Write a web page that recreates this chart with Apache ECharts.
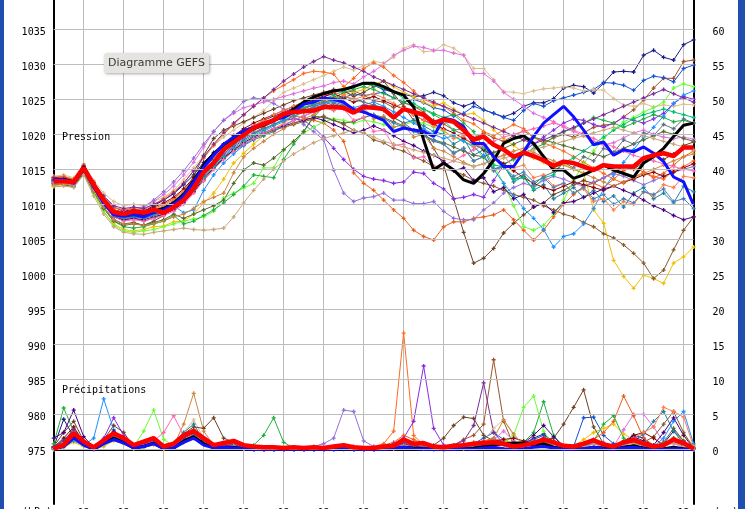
<!DOCTYPE html>
<html><head><meta charset="utf-8">
<script src="https://cdn.jsdelivr.net/npm/echarts@6.0.0/dist/echarts.min.js"></script>
<style>
html,body{margin:0;padding:0;width:745px;height:509px;overflow:hidden;background:#fff;position:relative}
#chart{position:absolute;left:0;top:-60px;width:745px;height:600px}
#lb{position:absolute;left:0;top:0;width:4px;height:509px;background:#1f4fae}
#rb{position:absolute;left:738px;top:0;width:7px;height:509px;background:#1f4fae}
#title{position:absolute;left:104px;top:53px;width:105px;height:20px;background:#e6e4e0;border-radius:3px;box-shadow:1px 1px 3px rgba(0,0,0,0.35);font:11px "DejaVu Sans",sans-serif;color:#3a3a3a;line-height:20px;text-align:center}
</style></head>
<body>
<div id="chart"></div>
<div id="lb"></div><div id="rb"></div>
<div id="title">Diagramme GEFS</div>
<script>
// forecast steps (hours)
const steps = [0,6,12,18,24,30,36,42,48,54,60,66,72,78,84,90,96,102,108,114,120,126,132,138,144,150,156,162,168,174,180,186,192,198,204,210,216,222,228,234,240,246,252,258,264,270,276,282,288,294,300,306,312,318,324,330,336,342,348,354,360,366,372,378,384];
const tickLabels = ['12','12','12','12','12','12','12','12','12','12','12','12','12','12','12','12'];
const pressureTicks = [975,980,985,990,995,1000,1005,1010,1015,1020,1025,1030,1035,1040];
const rainTicks = [0,5,10,15,20,25,30,35,40,45,50,55,60,65];

// ensemble mean / operational / control (pressure hPa)
const pMean = [1013.3,1013.3,1013.2,1015.2,1012.8,1010.6,1008.9,1008.6,1009.0,1008.8,1009.2,1008.8,1009.6,
1010.6,1012.3,1014.6,1015.9,1017.8,1018.9,1019.9,1020.9,1021.5,1022.0,1022.9,1023.2,1023.3,
1023.4,1023.9,1023.9,1023.8,1023.1,1023.9,1023.8,1023.6,1022.4,1023.6,1023.2,1022.8,1021.6,
1022.1,1021.8,1020.6,1019.2,1019.7,1018.5,1017.8,1016.8,1017.4,1016.9,1016.3,1015.5,1016.1,
1015.9,1015.4,1014.9,1015.6,1015.4,1015.4,1015.4,1016.6,1017.0,1017.3,1016.9,1018.1,1018.1];
const pOper = [1013.6,1013.5,1013.0,1015.0,1012.5,1010.2,1008.5,1008.3,1008.5,1008.2,1008.8,1009.2,1010.0,
1011.2,1013.2,1015.3,1017.0,1018.6,1019.6,1020.5,1021.0,1021.4,1022.1,1022.4,1023.2,1024.3,
1024.6,1025.2,1025.0,1024.6,1023.5,1023.2,1022.6,1022.0,1020.4,1020.9,1020.6,1020.4,1019.7,
1022.3,1022.0,1021.1,1018.7,1018.7,1016.8,1015.4,1015.4,1017.5,1019.7,1021.6,1022.8,1024.0,
1022.5,1020.6,1018.5,1018.9,1017.0,1017.8,1017.5,1018.2,1017.3,1016.1,1013.9,1013.2,1009.9];
const pCtrl = [1013.4,1013.6,1013.2,1015.4,1012.6,1010.4,1008.6,1008.4,1008.8,1008.5,1009.0,1009.4,1010.2,
1011.4,1013.4,1015.6,1017.2,1018.5,1019.4,1020.2,1020.8,1021.3,1022.0,1022.6,1023.6,1024.6,
1025.3,1025.8,1026.2,1026.4,1026.8,1027.3,1027.3,1026.8,1026.1,1025.6,1023.9,1019.2,1014.9,
1015.9,1014.9,1013.5,1013.0,1014.4,1016.3,1018.7,1019.4,1019.8,1018.7,1016.8,1014.9,1014.9,
1013.7,1014.2,1014.9,1015.6,1014.9,1014.4,1013.9,1015.9,1016.8,1018.0,1019.7,1021.3,1021.6];

// ensemble members (pressure hPa)
const p01 = [1013.8,1013.9,1013.5,1015.4,1013.0,1011.0,1009.6,1009.0,1009.3,1009.0,1009.8,1010.6,1011.5,
1012.8,1014.2,1016.0,1017.4,1018.6,1019.8,1020.6,1021.2,1022.0,1022.6,1023.1,1023.8,1024.3,
1024.9,1025.4,1026.0,1026.5,1026.9,1027.2,1027.0,1026.4,1026.0,1025.7,1025.4,1025.5,1026.0,
1025.5,1024.5,1024.0,1024.5,1023.5,1023.0,1022.5,1023.0,1024.0,1024.5,1024.5,1025.1,1026.6,
1027.0,1026.8,1025.9,1027.3,1028.9,1029.0,1028.9,1031.3,1032.0,1031.0,1030.6,1032.8,1033.5];
const p02 = [1013.2,1013.0,1012.8,1014.8,1012.2,1010.0,1008.2,1007.8,1008.0,1007.6,1008.0,1008.6,1009.5,
1010.8,1012.5,1014.2,1016.0,1017.2,1018.5,1019.6,1020.2,1021.0,1021.8,1022.4,1023.0,1023.6,
1024.2,1024.8,1025.3,1025.9,1026.2,1025.6,1024.8,1024.6,1023.8,1024.5,1024.0,1023.2,1022.0,
1021.5,1020.6,1020.0,1019.5,1020.2,1019.5,1019.0,1019.8,1020.5,1019.6,1018.8,1019.5,1020.0,
1019.6,1020.2,1021.0,1021.3,1021.5,1022.5,1023.5,1024.9,1026.6,1028.0,1028.0,1030.4,1030.6];
const p03 = [1013.0,1013.2,1013.0,1015.0,1012.6,1010.5,1008.8,1008.5,1008.8,1008.6,1009.2,1009.6,1010.4,
1011.6,1013.3,1015.0,1016.6,1018.0,1019.0,1020.0,1020.8,1021.3,1022.0,1022.4,1023.0,1023.4,
1023.9,1024.5,1025.0,1025.2,1025.8,1025.5,1025.8,1026.0,1025.2,1024.6,1025.0,1024.5,1023.8,
1023.5,1022.6,1023.0,1024.0,1023.5,1023.0,1022.4,1022.0,1023.4,1024.4,1024.0,1024.8,1025.2,
1025.6,1026.0,1026.4,1027.4,1027.3,1027.0,1026.3,1027.7,1028.3,1028.1,1027.5,1029.4,1029.9];
const p04 = [1014.0,1014.2,1013.8,1015.8,1013.4,1011.6,1010.4,1009.8,1010.0,1009.8,1010.4,1011.0,1012.0,
1013.5,1015.2,1017.0,1018.4,1019.6,1020.6,1021.6,1022.4,1023.4,1024.8,1026.0,1026.6,1027.2,
1027.8,1028.4,1029.0,1029.6,1029.2,1029.8,1030.4,1030.2,1031.0,1032.3,1032.8,1031.8,1031.9,
1032.8,1032.3,1031.3,1029.4,1029.4,1027.8,1026.1,1026.0,1025.8,1026.2,1026.5,1026.6,1026.8,
1026.6,1026.2,1026.4,1026.3,1025.1,1024.2,1024.0,1024.4,1023.9,1024.2,1024.0,1024.3,1024.2];
const p05 = [1013.5,1013.6,1013.4,1015.6,1013.0,1011.0,1009.6,1009.2,1009.5,1009.6,1010.4,1011.4,1012.6,
1014.2,1016.0,1018.2,1020.4,1022.0,1023.0,1023.8,1024.2,1024.6,1025.0,1025.4,1025.8,1026.2,
1026.6,1026.9,1027.4,1027.6,1027.2,1028.2,1029.0,1030.0,1031.3,1032.0,1032.6,1032.4,1032.0,
1032.0,1031.6,1031.3,1028.7,1028.7,1027.6,1026.0,1025.0,1024.0,1023.0,1022.4,1021.8,1021.0,
1020.4,1019.8,1019.0,1018.5,1018.8,1019.5,1020.2,1020.6,1020.0,1019.6,1019.4,1019.6,1019.3];
const p06 = [1012.6,1012.8,1012.6,1014.5,1011.6,1009.0,1007.2,1006.4,1006.2,1006.4,1006.8,1006.9,1007.5,
1007.6,1008.6,1010.2,1011.6,1013.6,1015.9,1017.3,1018.6,1019.8,1020.8,1021.6,1022.4,1023.2,
1024.0,1024.6,1025.0,1025.6,1026.0,1026.4,1027.2,1027.6,1026.8,1026.0,1025.4,1024.6,1024.0,
1024.5,1023.6,1022.8,1023.0,1022.0,1020.6,1019.4,1018.4,1017.4,1016.6,1016.0,1015.2,1015.8,
1015.0,1014.5,1009.2,1007.3,1002.0,999.7,998.0,999.9,999.4,998.7,1001.6,1002.5,1003.9];
const p07 = [1013.2,1013.0,1012.6,1014.6,1012.0,1009.6,1007.8,1007.2,1007.4,1007.0,1007.6,1008.4,1009.6,
1011.4,1014.0,1017.0,1019.4,1020.6,1021.2,1021.8,1022.4,1023.0,1023.6,1024.2,1024.8,1025.2,
1025.6,1026.0,1026.4,1026.2,1025.4,1026.0,1026.8,1027.6,1025.8,1024.0,1022.0,1020.6,1018.0,
1015.6,1010.8,1006.0,1001.6,1002.3,1003.7,1005.9,1007.3,1008.5,1009.6,1010.2,1011.4,1012.0,
1012.8,1013.4,1013.0,1013.8,1014.6,1015.4,1015.0,1016.0,1017.0,1016.4,1017.2,1018.4,1018.9];
const p08 = [1013.0,1013.2,1012.9,1014.9,1012.4,1010.2,1008.4,1008.0,1008.2,1008.4,1009.0,1009.4,1010.0,
1010.6,1011.8,1013.4,1015.0,1016.6,1017.8,1018.6,1019.4,1020.0,1020.6,1021.0,1021.4,1021.8,
1022.2,1022.6,1022.0,1021.4,1020.6,1020.2,1019.2,1018.8,1018.0,1017.6,1016.8,1016.2,1015.4,
1015.0,1014.8,1014.2,1013.4,1013.0,1012.6,1012.0,1011.4,1011.0,1010.6,1009.8,1009.2,1008.6,
1008.2,1007.4,1006.8,1005.8,1005.2,1004.2,1003.0,1001.6,999.4,1000.6,1003.5,1006.3,1008.2];
const p09 = [1013.6,1013.4,1013.2,1015.2,1012.8,1010.6,1009.0,1008.6,1008.8,1008.6,1009.4,1010.0,1010.8,
1012.0,1013.6,1015.2,1016.8,1018.2,1019.4,1020.4,1021.2,1021.8,1022.2,1022.4,1022.6,1022.4,
1022.0,1021.6,1020.6,1019.0,1014.5,1013.0,1012.0,1010.6,1009.2,1008.0,1006.3,1005.4,1004.9,
1006.8,1007.5,1007.5,1008.0,1008.2,1008.5,1009.2,1007.8,1006.3,1004.9,1006.3,1008.2,1010.0,
1011.4,1012.6,1013.0,1012.4,1013.6,1014.8,1015.4,1014.6,1013.8,1014.4,1015.6,1016.8,1017.6];
const p10 = [1013.9,1014.0,1013.6,1015.6,1013.2,1011.0,1009.5,1009.2,1009.4,1009.2,1010.0,1010.8,1011.8,
1013.0,1014.8,1016.6,1018.4,1020.0,1021.4,1022.8,1024.0,1025.2,1026.2,1027.0,1027.8,1028.7,
1029.0,1028.9,1028.6,1026.8,1028.0,1029.4,1030.2,1029.6,1028.4,1027.4,1026.2,1025.0,1024.4,
1024.0,1023.0,1022.0,1021.5,1020.4,1019.8,1020.6,1021.4,1020.8,1019.6,1018.8,1018.2,1017.6,
1016.8,1016.0,1015.2,1014.4,1013.6,1013.0,1013.8,1014.6,1014.0,1013.6,1014.8,1015.4,1016.2];
const p11 = [1013.0,1013.1,1012.8,1014.8,1012.4,1010.4,1009.0,1008.6,1009.0,1009.6,1010.6,1011.8,1013.2,
1014.8,1016.6,1018.6,1020.4,1022.0,1023.2,1024.7,1025.2,1025.0,1024.4,1023.6,1022.6,1021.4,
1020.4,1019.2,1014.9,1011.6,1010.4,1010.9,1011.1,1011.6,1010.6,1010.6,1010.1,1010.1,1010.4,
1009.0,1008.0,1007.8,1007.8,1009.2,1010.2,1011.6,1012.4,1013.0,1012.6,1013.4,1014.0,1013.6,
1013.0,1012.6,1013.2,1013.8,1014.4,1014.0,1013.4,1012.8,1013.4,1014.0,1014.6,1015.0,1015.4];
const p12 = [1013.4,1013.3,1013.0,1015.0,1012.6,1010.4,1008.8,1008.4,1008.6,1008.4,1008.8,1009.2,1009.8,
1010.8,1012.4,1014.0,1015.6,1017.0,1018.2,1019.2,1020.0,1020.8,1021.4,1022.0,1022.2,1022.0,
1021.0,1019.6,1018.0,1016.4,1015.0,1014.0,1013.6,1013.4,1013.0,1013.2,1014.6,1014.4,1013.0,
1012.2,1010.8,1011.0,1011.4,1011.0,1013.4,1015.6,1016.6,1017.6,1018.6,1019.6,1020.6,1021.6,
1022.2,1022.0,1021.4,1021.0,1021.6,1022.4,1022.0,1021.6,1022.2,1023.0,1024.4,1025.4,1025.0];
const p13 = [1012.8,1012.9,1012.6,1014.4,1011.6,1009.0,1007.0,1006.2,1006.0,1006.2,1006.4,1006.8,1007.2,
1007.6,1007.9,1008.2,1009.0,1010.9,1011.6,1012.3,1013.0,1015.2,1015.2,1017.8,1019.0,1020.2,
1021.0,1021.8,1022.2,1022.0,1021.6,1022.0,1021.8,1021.4,1021.0,1021.4,1021.8,1021.6,1021.0,
1020.4,1019.6,1019.0,1018.4,1016.6,1015.6,1013.0,1009.8,1006.8,1006.3,1007.0,1008.6,1010.6,
1013.4,1015.8,1017.6,1019.4,1020.6,1021.8,1022.4,1023.2,1023.8,1024.6,1026.6,1027.2,1026.8];
const p14 = [1013.1,1013.0,1012.7,1014.6,1012.0,1009.4,1007.6,1006.8,1006.6,1006.8,1007.2,1007.6,1008.4,
1007.2,1007.6,1008.4,1009.2,1010.2,1011.4,1012.6,1014.2,1014.0,1013.8,1016.4,1018.6,1020.4,
1022.4,1024.0,1025.0,1026.0,1026.4,1026.8,1026.4,1025.8,1025.2,1024.6,1024.0,1023.6,1023.0,
1022.4,1022.8,1021.6,1020.4,1018.0,1016.8,1015.8,1016.4,1017.2,1018.0,1018.6,1019.6,1020.4,
1020.8,1021.6,1022.4,1022.0,1021.6,1021.0,1021.6,1022.2,1022.8,1022.4,1021.8,1022.0,1021.6];
const p15 = [1013.5,1013.6,1013.1,1015.0,1012.6,1010.2,1008.4,1008.0,1008.2,1008.0,1008.4,1008.8,1009.4,
1010.4,1012.0,1013.8,1015.4,1016.6,1017.6,1018.4,1019.2,1019.8,1020.4,1021.2,1022.0,1022.6,
1023.2,1023.8,1024.4,1024.0,1023.2,1023.6,1024.2,1023.8,1022.4,1021.6,1022.0,1021.2,1020.4,
1020.0,1018.6,1019.4,1017.0,1017.8,1015.0,1015.6,1013.2,1014.0,1012.0,1012.8,1010.8,1011.6,
1012.4,1011.0,1012.0,1010.4,1011.2,1009.6,1011.6,1012.4,1010.8,1011.6,1010.2,1012.6,1011.8];
const p16 = [1013.8,1013.7,1013.3,1015.3,1012.9,1010.8,1009.2,1008.9,1009.1,1009.0,1009.6,1010.2,1011.0,
1012.2,1013.8,1015.6,1017.2,1018.6,1019.8,1020.8,1021.6,1022.2,1022.8,1023.4,1024.0,1024.6,
1025.0,1025.4,1025.8,1025.2,1024.6,1025.0,1025.4,1024.8,1024.2,1023.6,1022.8,1022.0,1021.4,
1020.8,1020.2,1019.4,1018.6,1017.8,1016.8,1015.8,1014.8,1013.8,1013.0,1012.4,1012.0,1012.6,
1013.2,1012.8,1012.4,1012.0,1012.6,1013.2,1013.6,1014.2,1014.6,1014.0,1014.6,1015.2,1015.8];
const p17 = [1013.3,1013.4,1013.0,1015.0,1012.5,1010.2,1008.6,1008.2,1008.4,1008.2,1008.6,1009.0,1009.8,
1008.8,1009.2,1012.0,1014.2,1015.9,1017.2,1018.4,1019.6,1020.4,1021.2,1021.8,1022.6,1023.2,
1024.0,1024.4,1024.8,1024.4,1023.8,1024.2,1024.6,1024.0,1023.2,1022.4,1021.6,1020.8,1020.0,
1019.4,1019.8,1019.0,1018.2,1017.0,1015.0,1013.0,1011.2,1009.4,1008.0,1006.4,1003.9,1005.4,
1005.8,1007.2,1009.4,1012.2,1014.2,1016.0,1017.8,1019.6,1021.0,1022.6,1024.4,1025.6,1026.2];
const p18 = [1012.9,1012.8,1012.5,1014.4,1011.8,1009.4,1007.6,1007.0,1007.2,1007.0,1007.4,1007.8,1008.6,
1008.0,1008.6,1009.2,1009.8,1010.6,1013.0,1014.9,1015.9,1015.6,1016.6,1017.8,1019.0,1020.4,
1022.6,1022.4,1022.0,1021.6,1021.8,1022.4,1022.8,1022.4,1021.8,1021.2,1020.6,1019.8,1019.2,
1018.8,1018.2,1017.6,1017.0,1016.8,1017.4,1018.0,1018.6,1019.2,1019.6,1019.2,1018.8,1018.4,
1018.0,1017.6,1017.2,1016.8,1017.4,1018.0,1018.6,1019.2,1019.8,1020.4,1020.0,1019.4,1019.0];
const p19 = [1013.4,1013.2,1012.9,1014.9,1012.3,1010.0,1008.2,1007.8,1008.0,1007.8,1008.2,1008.6,1009.2,
1010.2,1011.8,1013.6,1015.2,1016.6,1017.8,1018.8,1019.6,1020.2,1020.8,1021.2,1021.6,1022.0,
1022.4,1022.0,1021.4,1020.8,1020.2,1020.6,1021.2,1020.6,1019.8,1019.0,1018.4,1017.6,1017.0,
1016.2,1014.8,1015.2,1013.4,1013.8,1011.8,1012.4,1010.8,1011.4,1009.6,1010.2,1008.8,1010.2,
1010.4,1011.0,1011.6,1012.2,1012.6,1012.0,1011.4,1010.6,1009.8,1009.2,1008.4,1007.8,1008.2];
const p20 = [1013.6,1013.5,1013.2,1015.1,1012.7,1010.5,1008.8,1008.4,1008.6,1008.4,1008.8,1009.2,1010.0,
1011.2,1012.8,1014.6,1016.2,1017.6,1018.8,1019.8,1020.6,1021.4,1022.0,1022.6,1023.2,1023.8,
1024.2,1024.6,1025.0,1025.4,1025.0,1024.6,1024.2,1023.4,1022.4,1021.6,1020.6,1019.8,1019.0,
1018.6,1017.2,1018.0,1016.2,1016.8,1014.8,1015.4,1013.6,1014.2,1012.8,1014.0,1014.6,1016.0,
1015.2,1016.8,1016.2,1018.0,1017.4,1019.2,1018.6,1020.2,1019.8,1021.4,1020.8,1022.2,1021.6];
const p21 = [1013.2,1013.4,1013.1,1015.0,1012.6,1010.3,1008.6,1008.2,1008.4,1008.2,1008.6,1009.0,1009.6,
1010.6,1012.0,1013.8,1015.4,1016.8,1018.0,1019.0,1019.8,1020.6,1021.4,1022.2,1023.0,1023.8,
1024.4,1025.0,1025.6,1026.2,1026.8,1027.2,1027.0,1026.6,1026.0,1025.2,1024.4,1023.6,1022.8,
1022.0,1020.6,1020.8,1018.6,1018.0,1015.6,1015.4,1013.6,1013.8,1012.2,1013.8,1014.2,1016.0,
1016.6,1017.6,1018.6,1019.6,1020.6,1021.4,1022.2,1022.8,1023.2,1023.6,1023.2,1022.8,1022.4];
const p22 = [1013.7,1013.8,1013.4,1015.4,1013.0,1010.8,1009.2,1008.8,1009.0,1008.8,1009.2,1009.8,1010.6,
1011.8,1013.4,1015.2,1016.8,1018.2,1019.4,1020.4,1021.2,1022.0,1022.8,1023.4,1024.0,1024.6,
1025.2,1025.6,1026.0,1025.6,1025.0,1025.4,1025.8,1025.2,1024.4,1023.6,1022.8,1022.0,1021.2,
1020.6,1019.4,1019.8,1018.2,1018.6,1016.6,1017.0,1015.2,1015.6,1013.8,1014.2,1012.6,1013.0,
1011.6,1012.2,1010.4,1010.8,1009.2,1010.4,1010.0,1011.8,1011.2,1012.8,1012.4,1014.0,1013.8];
const p23 = [1012.7,1012.9,1012.7,1014.6,1011.9,1009.6,1007.8,1007.2,1007.2,1007.0,1007.2,1007.6,1008.2,
1008.6,1009.4,1010.4,1011.0,1011.6,1014.5,1016.8,1018.0,1019.0,1020.0,1020.8,1021.6,1022.2,
1022.8,1023.8,1023.4,1024.6,1023.4,1023.8,1022.2,1022.6,1021.0,1021.4,1019.6,1020.0,1018.0,
1017.6,1016.8,1016.0,1015.4,1015.8,1016.4,1017.0,1017.6,1018.0,1017.4,1016.8,1016.2,1015.6,
1015.0,1014.4,1013.8,1013.2,1012.6,1013.2,1013.8,1014.4,1015.0,1015.6,1016.2,1016.8,1017.2];
const p24 = [1013.1,1013.0,1012.8,1014.7,1012.2,1009.9,1008.2,1007.6,1007.8,1007.6,1008.0,1008.4,1009.0,
1010.0,1011.6,1013.4,1015.0,1016.4,1017.6,1018.6,1019.4,1020.2,1020.8,1021.4,1022.0,1022.6,
1023.2,1023.8,1023.6,1023.6,1022.0,1022.4,1020.4,1020.6,1018.4,1018.6,1016.6,1016.8,1015.4,
1015.6,1016.2,1017.0,1017.8,1018.4,1019.0,1019.6,1020.0,1020.4,1020.8,1021.2,1021.6,1021.2,
1020.6,1020.0,1019.4,1018.8,1018.2,1017.6,1017.0,1016.6,1016.2,1015.8,1015.4,1015.0,1014.8];
const p25 = [1013.5,1013.3,1013.0,1014.9,1012.4,1010.1,1008.4,1008.0,1008.2,1008.0,1008.4,1008.8,1009.6,
1010.8,1012.4,1014.2,1015.8,1017.2,1018.4,1019.4,1020.2,1020.8,1021.4,1022.0,1022.6,1023.2,
1023.8,1024.2,1024.6,1024.2,1023.6,1023.2,1022.8,1022.2,1021.6,1021.0,1020.4,1019.8,1019.2,
1018.6,1017.4,1018.0,1016.2,1016.8,1015.0,1015.4,1014.0,1014.6,1013.2,1013.8,1012.4,1013.0,
1011.6,1012.4,1010.8,1011.4,1010.0,1010.8,1010.2,1011.8,1011.4,1012.2,1010.4,1010.8,1009.4];
const p26 = [1013.6,1013.7,1013.4,1015.5,1013.1,1011.2,1009.8,1009.4,1009.6,1009.4,1010.0,1010.6,1011.6,
1013.0,1014.8,1016.8,1018.6,1020.2,1021.6,1022.8,1024.0,1025.2,1026.4,1027.6,1028.6,1029.6,
1030.4,1031.1,1030.6,1030.2,1029.6,1029.0,1028.2,1027.6,1027.0,1026.4,1025.8,1025.2,1024.6,
1024.0,1023.4,1022.8,1022.2,1021.6,1021.0,1020.4,1019.8,1019.2,1018.6,1019.2,1019.8,1020.4,
1021.0,1021.6,1022.2,1022.8,1023.4,1024.0,1024.6,1025.2,1025.8,1026.4,1025.8,1025.2,1024.6];
const p27 = [1012.5,1012.6,1012.4,1014.2,1011.2,1008.6,1006.8,1006.0,1005.8,1005.7,1006.0,1006.2,1006.4,
1006.6,1006.4,1006.3,1006.4,1006.6,1008.2,1010.2,1012.0,1013.6,1015.0,1016.2,1017.2,1018.0,
1018.8,1019.4,1019.8,1020.2,1020.6,1020.2,1019.6,1019.0,1018.6,1018.2,1017.8,1017.4,1017.0,
1016.6,1016.2,1015.8,1015.4,1015.8,1016.2,1016.6,1017.0,1017.4,1017.8,1018.2,1018.6,1019.0,
1019.4,1019.8,1020.2,1020.6,1021.0,1020.6,1020.2,1019.8,1019.4,1019.0,1018.6,1018.2,1017.8];

// precipitation (mm / 6h)
const rMean = [0.1,0.6,2.3,1.1,0.3,1.3,2.3,1.6,0.6,1.1,1.6,0.4,0.8,
2.0,2.6,1.6,0.6,0.9,1.2,0.6,0.4,0.3,0.3,0.2,0.3,0.2,
0.3,0.2,0.4,0.6,0.3,0.2,0.2,0.4,0.5,1.4,0.8,0.9,0.4,
0.3,0.5,0.6,0.8,0.9,1.0,0.8,0.4,0.6,0.9,1.4,1.0,0.5,
0.4,0.8,1.3,0.7,0.4,1.0,1.3,0.8,0.4,0.6,1.4,0.9,0.1];
const rOper = [0,0.4,1.6,0.6,0,0.8,1.4,0.9,0.2,0.4,0.8,0.1,0.2,
1.0,1.6,0.6,0.2,0.3,0.2,0.1,0,0,0,0,0,0,
0,0,0,0.1,0,0,0,0,0.1,0.3,0.1,0,0,
0,0,0.1,0,0.2,0.3,0.1,0,0.1,0.3,0.4,0.2,0,
0,0.1,0.3,0.1,0,0.2,0.3,0.1,0,0,0.1,0,0];
const rCtrl = [0,0.5,1.8,0.7,0.1,0.9,1.6,1.0,0.2,0.4,0.9,0.1,0.2,
1.2,1.8,0.8,0.2,0.3,0.3,0.1,0,0,0,0,0,0,
0,0,0,0,0,0,0,0,0.1,0.3,0.2,0.1,0,
0,0,0.1,0.2,0.4,0.6,0.8,0.9,0.9,0.6,0.8,0.3,0.1,
0,0.1,0.3,0.2,0,0.3,0.5,0.2,0,0.1,0.3,0.1,0];
const r01 = [0.3,4.3,1.8,0.5,0,1.2,2.4,1.4,0.3,0.6,1.0,0.2,0.4,
1.6,2.2,1.2,0.4,0.6,0.8,0.3,0,0,0,0,0,0,
0,0,0.2,0.3,0,0,0,0.2,0.4,1.0,0.6,0.4,0.2,
0.1,0.3,0.4,0.6,0.8,1.2,0.6,0.3,0.8,1.6,2.2,1.0,0.3,
0.2,0.6,1.0,0.4,0.2,1.2,2.0,1.6,0.4,0.8,2.6,1.2,0.2];
const r02 = [0.2,1.0,3.0,1.2,0.2,0.8,2.0,1.2,0.4,0.8,1.4,0.3,0.6,
1.8,2.8,1.4,0.5,0.6,1.0,0.4,0.2,0,0,0,0.2,0,
0,0,0.2,0.4,0.2,0,0,0.4,0.6,1.2,0.8,0.6,0.4,
0.2,0.6,1.4,2.0,3.6,12.8,4.0,0.6,0.4,0.8,1.2,0.8,0.4,
0.3,0.6,1.2,0.6,0.2,0.8,1.4,0.8,0.3,0.6,1.6,0.8,0];
const r03 = [0,0.8,2.6,0.8,0.1,1.0,1.8,1.2,0.2,0.4,1.2,0.2,0.4,
1.4,2.0,1.0,0.3,0.4,0.6,0.2,0,0,0,0,0,0,
0,0.2,0.4,0.6,0.2,0,0,0.2,0.3,0.8,0.5,0.3,0.1,
0,0.2,0.4,0.8,1.6,2.4,1.4,0.6,0.9,1.4,2.0,1.2,0.4,
0.4,4.5,4.6,2.0,0.8,0.6,0.4,0.3,0.2,0.6,1.4,0.6,0.1];
const r04 = [0.1,0.5,1.5,0.6,0,0.6,1.6,1.0,0.2,0.4,0.8,0.1,0.3,
2.4,4.2,1.6,0.4,0.6,0.8,0.2,0,0,0,0,0,0,
0,0,0,0.1,0,0,0,0.1,0.2,0.6,0.4,0.2,0,
0,0.1,0.2,0.4,1.2,3.0,4.2,2.0,0.6,0.8,1.2,0.6,0.2,
0.2,0.4,0.8,0.4,0.1,0.6,1.0,0.6,0.2,0.4,1.0,0.5,0];
const r05 = [0,0.4,1.2,0.5,0,0.5,1.4,0.8,0.2,0.3,0.8,0.1,0.2,
1.2,1.8,0.8,0.2,0.3,0.5,0.1,0,0,0,0,0,0,
0,0,0,0,0,0,0,0.1,0.3,0.9,0.5,0.3,0.1,
0,0.1,0.2,0.3,0.5,1.4,2.6,1.2,0.4,0.6,1.0,0.5,0.2,
0.2,0.6,1.4,1.0,0.4,2.8,5.0,5.0,3.2,1.0,0.8,0.3,0];
const r06 = [0,0.3,1.0,0.4,0,0.4,1.2,0.8,0.1,0.3,0.6,0.1,0.2,
1.0,1.6,0.8,0.2,0.3,0.4,0.1,0,0,0,0,0,0,
0,0,0,0,0,0,0,0,0.1,0.4,0.2,0.1,0,
0,0.1,0.1,0.2,0.4,0.8,1.4,0.8,0.3,0.6,1.0,0.4,0.1,
0.4,1.4,2.4,3.0,3.6,2.2,1.4,0.8,0.4,0.6,1.4,2.0,0.6];
const r07 = [0.4,2.4,4.0,1.2,0.2,1.4,3.4,2.4,0.4,1.0,1.6,0.4,0.8,
2.2,3.2,3.0,4.5,1.6,1.0,0.4,0.2,0,0,0,0.2,0,
0,0,0.2,0.3,0.1,0,0,0.3,0.6,1.4,1.0,0.8,0.6,
1.6,3.4,4.6,4.4,2.0,1.2,0.6,0.2,0.4,0.8,1.4,1.6,3.6,
6.0,8.5,3.2,0.8,0.4,0.6,1.2,0.6,0.2,0.6,1.6,0.8,0];
const r08 = [0.2,0.8,2.2,0.8,0.1,0.8,1.8,1.2,0.3,0.6,1.0,0.2,0.4,
1.4,2.2,1.0,0.3,0.4,0.6,0.2,0,0,0,0,0,0,
0,0,0.1,0.2,0,0,0,0.2,0.4,0.8,0.5,0.3,0.1,
0.1,0.2,0.4,0.6,0.8,1.2,0.8,0.4,0.6,1.0,1.4,0.8,0.3,
0.2,0.4,0.8,0.6,0.3,0.8,1.4,1.0,1.8,3.6,5.4,2.4,0.2];
const r09 = [0.2,0.8,2.4,1.0,0.2,1.0,2.0,1.4,0.4,0.6,1.2,0.3,0.5,
1.6,2.4,1.2,0.4,0.5,0.8,0.3,0,0,0,0,0,0,
0,0.2,0.3,0.5,0.4,0.2,0.3,0.6,1.0,2.0,1.4,0.8,0.4,
0.3,0.5,0.8,1.0,1.2,1.6,1.0,0.5,0.8,1.2,1.6,1.0,0.4,
0.3,0.6,1.4,2.4,4.0,7.6,4.8,1.6,0.6,0.8,1.4,0.8,0.1];
const r10 = [0.1,0.6,2.0,0.8,0.1,0.8,1.8,1.2,0.2,0.6,1.0,0.2,0.4,
1.4,2.0,1.0,0.3,0.4,0.6,0.2,0,0,0,0,0,0,
0,0,0.1,0.3,0.2,0.1,0.4,0.8,2.6,16.6,2.0,0.6,0.3,
0.2,0.3,0.6,0.8,1.0,1.4,0.8,0.4,0.6,1.0,1.4,0.8,0.3,
0.2,0.5,1.0,0.6,0.3,0.8,1.4,1.0,0.4,0.6,1.2,0.6,0];
const r11 = [0,0.6,1.6,0.6,0,0.8,1.6,1.0,0.2,0.4,0.8,0.2,0.3,
1.2,1.8,0.9,0.3,0.4,0.5,0.2,0,0,0,0,0,0.2,
0.4,0.8,1.6,5.6,5.4,1.2,0.4,0.3,0.6,1.0,0.6,0.3,0.2,
0.2,0.4,0.6,0.8,1.0,1.4,0.8,0.4,0.6,1.0,1.4,0.8,0.3,
0.2,0.5,0.9,0.6,0.3,0.8,1.4,0.9,0.3,0.6,1.2,0.6,0];
const r12 = [0.2,1.2,2.8,1.0,0.2,1.6,4.5,2.0,0.4,0.8,1.4,0.3,0.6,
1.6,2.4,1.2,0.4,0.5,0.7,0.2,0,0,0,0,0,0,
0,0,0.1,0.2,0.1,0,0.2,0.4,0.8,1.6,4.0,11.9,3.0,
0.6,0.4,0.6,0.8,1.0,1.4,0.8,0.4,0.6,1.0,1.6,0.9,0.3,
0.2,0.6,1.2,0.7,0.3,0.8,1.4,0.9,0.3,0.6,1.4,0.7,0];
const r13 = [0,0.4,1.4,0.5,0,0.6,1.4,1.0,0.4,2.6,5.6,1.4,0.5,
1.2,1.8,0.9,0.3,0.4,0.5,0.1,0,0,0,0,0,0,
0,0,0,0.1,0,0,0,0.1,0.2,0.6,0.4,0.2,0,
0,0.1,0.2,0.4,0.6,1.0,0.8,2.0,6.0,7.6,2.6,0.5,0.2,
0.2,0.4,0.9,0.6,0.2,0.8,1.2,0.8,0.3,0.5,1.2,0.6,0];
const r14 = [0.8,5.9,2.6,0.8,0.2,1.0,2.0,1.4,0.4,0.6,1.2,0.3,0.5,
1.4,2.0,1.0,0.3,0.4,0.6,0.3,0.6,2.0,4.5,1.0,0.2,0,
0,0,0.1,0.2,0,0,0,0.2,0.4,0.8,0.4,0.2,0.1,
0.1,0.2,0.4,0.6,0.8,1.2,0.8,0.5,1.0,2.4,6.8,2.0,0.4,
0.2,0.6,1.2,3.6,4.8,1.6,0.8,0.6,0.3,0.6,1.4,0.7,0];
const r15 = [0.2,1.4,2.6,0.9,0.1,0.9,1.8,1.2,0.3,0.5,1.0,0.2,0.4,
2.4,3.6,1.2,0.4,0.5,0.6,0.2,0,0,0,0,0,0,
0,0,0,0.1,0,0,0,0.2,0.3,0.7,0.4,0.2,0.1,
0,0.2,0.4,0.6,0.9,1.4,0.9,0.4,0.6,1.0,1.4,0.8,0.3,
0.2,0.5,0.9,0.5,0.2,0.7,1.2,2.2,4.0,5.4,2.6,0.8,0.1];
const r16 = [0.3,1.6,3.2,1.0,0.2,1.2,2.4,1.6,0.4,0.8,1.4,0.3,0.6,
1.8,2.6,1.4,0.4,0.6,0.8,0.3,0,0,0,0,0,0,
0,0,0,0.2,0,0,0,0.2,0.4,0.8,0.5,0.3,0.1,
0.1,0.3,0.4,0.6,0.8,1.2,1.4,1.6,1.2,0.8,1.2,0.7,0.3,
0.2,0.5,1.0,0.6,0.3,0.9,2.0,2.4,1.6,0.6,1.2,0.6,0];
const r17 = [0,0.4,1.2,0.6,1.6,7.2,2.8,1.0,0.2,0.4,0.8,0.2,0.3,
1.0,1.6,0.8,0.2,0.3,0.5,0.1,0,0,0,0,0,0,
0,0,0,0,0,0,0,0.1,0.2,0.5,0.3,0.2,0,
0,0.1,0.2,0.4,0.6,0.9,0.6,0.3,0.5,0.8,1.2,0.7,0.2,
0.2,0.4,0.8,0.5,0.2,0.6,1.0,0.8,0.4,1.6,4.0,5.4,0.8];
const r18 = [0.3,1.0,2.4,0.9,0.2,1.0,2.2,1.4,0.4,0.7,1.2,0.3,0.5,
1.6,2.4,1.2,0.4,0.6,0.8,0.4,0.2,0,0,0,0,0,
0,0,0.2,0.3,0.1,0,0,0.2,0.4,0.8,0.6,0.4,0.2,
0.2,0.3,0.6,0.8,1.0,1.2,0.8,0.4,0.6,1.0,1.6,0.9,0.4,
0.3,0.6,1.2,0.7,0.3,0.8,1.6,1.0,0.4,1.0,3.0,1.2,0.1];
const r19 = [1.6,2.4,5.6,1.8,0.3,1.2,2.6,1.6,0.4,0.8,1.4,0.3,0.6,
1.6,2.2,1.2,0.4,0.5,0.7,0.2,0,0,0,0,0,0,
0,0,0,0.1,0,0,0,0.2,0.3,0.7,0.4,0.2,0.1,
0.1,0.2,0.4,0.6,0.8,1.0,0.7,0.4,0.9,2.0,3.4,1.8,0.4,
0.3,0.6,1.2,0.8,0.4,1.0,1.8,1.2,0.6,2.4,4.5,2.0,0.1];
const r20 = [0.2,0.8,2.0,0.8,0.1,0.8,1.8,1.2,0.3,0.6,1.0,0.2,0.4,
1.4,2.0,1.0,0.3,0.4,0.6,0.2,0,0,0,0,0,0,
0,0,0.1,0.2,0,0,0,0.2,0.4,0.8,0.5,0.3,0.1,
0.1,0.2,0.4,0.6,0.8,1.2,0.7,0.4,0.6,1.0,1.4,0.8,0.3,
0.2,0.5,0.9,0.6,0.2,0.7,1.2,0.8,0.3,0.6,1.2,0.6,0];
const r21 = [0.1,0.6,1.8,0.7,0.1,0.7,1.6,1.0,0.2,0.5,0.9,0.2,0.3,
1.2,1.8,0.9,0.3,0.4,0.5,0.1,0,0,0,0,0,0,
0,0,0,0.1,0,0,0,0.1,0.3,0.6,0.4,0.2,0,
0,0.1,0.3,0.5,0.7,1.0,0.6,0.3,0.5,0.9,1.2,0.7,0.2,
0.2,0.4,0.8,0.5,0.2,0.6,1.0,0.7,0.3,0.5,1.0,0.5,0];
const r22 = [0.2,0.9,2.2,0.9,0.2,0.9,2.0,1.3,0.3,0.6,1.1,0.3,0.5,
1.5,2.2,1.1,0.3,0.5,0.7,0.2,0,0,0,0,0,0,
0,0,0.1,0.2,0.1,0,0.1,0.3,0.6,1.2,0.8,0.4,0.2,
0.1,0.3,0.5,0.7,0.9,1.3,0.8,0.4,0.6,1.0,1.4,0.8,0.3,
0.2,0.5,1.0,0.6,0.3,0.8,1.6,2.4,3.2,6.0,5.4,4.6,0.4];
const r23 = [0.2,1.0,2.6,1.0,0.2,1.0,2.2,1.4,0.4,0.7,1.2,0.3,0.5,
3.6,8.0,2.6,0.6,0.6,0.8,0.3,0,0,0,0,0,0,
0,0,0.1,0.2,0,0,0,0.2,0.4,0.8,0.5,0.3,0.1,
0.1,0.3,0.5,0.7,0.9,1.6,4.2,2.2,0.6,1.0,1.4,0.8,0.3,
0.2,0.5,1.0,0.6,0.3,0.8,1.4,0.9,0.4,0.7,1.4,0.7,0];
const r24 = [0.1,0.6,1.8,0.7,0.1,0.7,1.6,1.0,0.2,0.5,1.2,2.4,4.8,
2.0,1.8,0.9,0.3,0.4,0.5,0.1,0,0,0,0,0,0,
0,0,0,0.1,0,0,0,0.1,0.3,0.6,0.4,0.2,0,
0,0.1,0.3,0.5,0.7,1.0,0.6,0.3,0.5,0.9,1.2,0.7,0.2,
0.2,0.4,0.8,0.5,0.2,0.6,1.0,0.7,0.3,0.5,1.0,0.5,0];
const r25 = [0.2,0.8,2.0,0.8,0.2,0.9,1.8,1.2,0.3,0.6,1.0,0.2,0.4,
1.4,2.0,1.0,0.3,0.4,0.6,0.2,0,0,0,0,0,0,
0,0,0.1,0.2,0,0,0,0.2,0.4,0.8,0.5,0.3,0.1,
0.1,0.2,0.4,0.6,0.8,1.2,0.8,0.4,0.6,1.0,1.4,0.8,0.3,
0.2,0.5,0.9,0.6,0.3,0.8,1.2,0.8,0.3,0.6,1.2,0.6,0];
const r26 = [0.3,1.2,2.8,1.0,0.2,1.1,2.2,1.4,0.4,0.8,1.3,0.3,0.6,
1.6,2.4,1.2,0.4,0.5,0.7,0.2,0,0,0,0,0,0,
0,0,0.1,0.2,0.1,0,0,0.2,0.4,0.8,0.5,0.3,0.2,
0.3,0.6,1.2,3.4,9.5,2.4,0.8,0.4,0.6,1.0,1.6,0.9,0.3,
0.2,0.6,1.1,0.6,0.3,0.8,1.4,0.9,0.3,0.6,1.4,0.7,0];
const r27 = [0.1,0.5,1.6,0.6,0.1,0.6,1.4,0.9,0.2,0.4,0.8,0.2,0.3,
1.1,1.6,0.8,0.2,0.3,0.5,0.1,0,0,0,0,0,0,
0,0,0,0,0,0,0,0.1,0.2,0.5,0.3,0.1,0,
0,0.1,0.2,0.4,0.6,0.9,0.6,0.3,0.5,0.8,1.1,0.6,0.2,
0.2,0.4,0.7,0.4,0.2,0.6,0.9,0.6,0.2,0.4,0.9,0.4,0];

const memberColors = ['#1c1c84','#a0522d','#1450d2','#dcc08e','#e070e0','#f0c000','#6b4226','#8b5a2b','#e8601c','#ff6a20','#9370db','#8a2be2','#66ff33','#20b040','#2080a0','#8b0000','#1e90ff','#556b2f','#4b0082','#607080','#00c070','#ff7f50','#cd853f','#ff69b4','#4682b4','#7a2a9a','#c8a878'];
const memberP = [p01,p02,p03,p04,p05,p06,p07,p08,p09,p10,p11,p12,p13,p14,p15,p16,p17,p18,p19,p20,p21,p22,p23,p24,p25,p26,p27];
const memberR = [r01,r02,r03,r04,r05,r06,r07,r08,r09,r10,r11,r12,r13,r14,r15,r16,r17,r18,r19,r20,r21,r22,r23,r24,r25,r26,r27];

const PLUS = 'path://M1,0H2V1H3V2H2V3H1V2H0V1H1Z';
const chart = echarts.init(document.getElementById('chart'), null, {renderer:'canvas'});
const series = [];
series.push({type:'line', data: steps.map(() => null), yAxisIndex:0, z:1, silent:true, symbol:'none',
  markLine:{silent:true, symbol:'none', animation:false, label:{show:false},
    lineStyle:{color:'#bdbdbd', width:1, type:'solid'}, data: pressureTicks.map(v => ({yAxis:v}))}});
function addLine(data, axis, color, width, sym, z){
  series.push({type:'line', data, yAxisIndex:axis, z, silent:true, symbol:sym, symbolSize:4,
    showSymbol: sym !== 'none', lineStyle:{color, width}, itemStyle:{color}, emphasis:{disabled:true}});
}
memberP.forEach((p,k) => addLine(p, 0, memberColors[k], 1, PLUS, 2));
memberR.forEach((r,k) => addLine(r, 1, memberColors[k], 1, PLUS, 2));
addLine(pCtrl, 0, '#000000', 3, 'none', 3);
addLine(rCtrl, 1, '#000000', 3, 'none', 3);
addLine(pOper, 0, '#1010ff', 3, 'none', 4);
addLine(rOper, 1, '#1010ff', 3, 'none', 4);
addLine(pMean, 0, '#ff0000', 4.5, 'none', 5);
addLine(rMean, 1, '#ff0000', 4.5, 'none', 5);

const labelFont = {fontFamily:'DejaVu Sans Mono', fontSize:10, color:'#000'};
const plain = (v) => String(Math.round(v));
chart.setOption({
  animation:false,
  grid:{left:53.7, right:51.4, top:19.3, bottom:36, containLabel:false},
  xAxis:{type:'category', data:steps, boundaryGap:false,
    axisLine:{lineStyle:{color:'#000', width:2}},
    axisTick:{show:false},
    splitLine:{show:true, interval:(i) => i % 4 === 3, lineStyle:{color:'#bdbdbd', width:1}},
    axisLabel:Object.assign({interval:(i) => i % 4 === 3, margin:4,
      formatter:(v,i) => tickLabels[(i-3)/4] || ''}, labelFont)},
  yAxis:[
    {type:'value', min:967.19, max:1045, position:'left',
      axisLine:{show:true, lineStyle:{color:'#000', width:2}}, axisTick:{show:false},
      splitLine:{show:false},
      axisLabel:Object.assign({customValues:pressureTicks, margin:8, formatter:plain, verticalAlign:'top', lineHeight:6}, labelFont)},
    {type:'value', min:-7.81, max:70, position:'right',
      axisLine:{show:true, lineStyle:{color:'#000', width:2}}, axisTick:{show:false},
      splitLine:{show:false},
      axisLabel:Object.assign({customValues:rainTicks, margin:19, formatter:plain, verticalAlign:'top', lineHeight:6}, labelFont)}
  ],
  graphic:[
    {type:'text', left:62, top:192, z:100, style:{text:'Pression', font:'10px "DejaVu Sans Mono"', fill:'#000'}},
    {type:'text', left:62, top:445.5, z:100, style:{text:'Précipitations', font:'10px "DejaVu Sans Mono"', fill:'#000'}},
    {type:'text', left:22, top:567, z:100, style:{text:'(hPa)', font:'10px "DejaVu Sans Mono"', fill:'#000'}},
    {type:'text', left:714, top:567, z:100, style:{text:'(mm)', font:'10px "DejaVu Sans Mono"', fill:'#000'}}
  ],
  series
});
</script>
</body></html>
